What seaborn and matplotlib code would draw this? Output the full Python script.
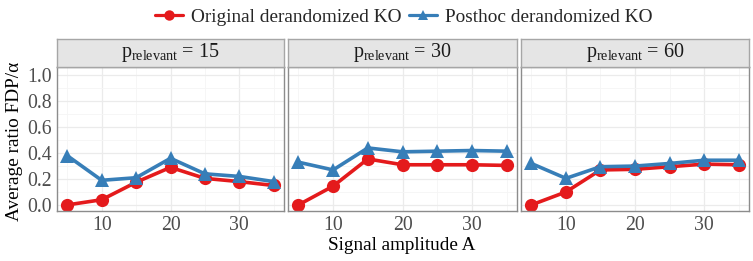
import numpy as np
import pandas as pd
import matplotlib
matplotlib.use('Agg')
import matplotlib.pyplot as plt
import seaborn as sns
from matplotlib.lines import Line2D

# data
amplitude = [5, 10, 15, 20, 25, 30, 35]
p_relevant = [15, 30, 60]
methods = ['Original derandomized KO', 'Posthoc derandomized KO']

original = {
    15: [0.00, 0.04, 0.175, 0.29, 0.205, 0.18, 0.15],
    30: [0.00, 0.145, 0.355, 0.31, 0.31, 0.31, 0.305],
    60: [0.00, 0.10, 0.27, 0.275, 0.295, 0.315, 0.31],
}
posthoc = {
    15: [0.38, 0.19, 0.21, 0.36, 0.24, 0.22, 0.18],
    30: [0.33, 0.27, 0.44, 0.41, 0.415, 0.42, 0.415],
    60: [0.32, 0.205, 0.295, 0.30, 0.32, 0.345, 0.345],
}

rows = []
for p in p_relevant:
    for a, v in zip(amplitude, original[p]):
        rows.append({'p': p, 'A': a, 'ratio': v, 'method': methods[0]})
    for a, v in zip(amplitude, posthoc[p]):
        rows.append({'p': p, 'A': a, 'ratio': v, 'method': methods[1]})
df = pd.DataFrame(rows)

sns.set_style('white')
plt.rcParams['font.family'] = ['Liberation Serif', 'DejaVu Serif']
plt.rcParams['mathtext.fontset'] = 'custom'
plt.rcParams['mathtext.rm'] = 'Liberation Serif'
plt.rcParams['mathtext.it'] = 'Liberation Serif'

palette = {methods[0]: '#E41A1C', methods[1]: '#377EB8'}
markers = {methods[0]: 'o', methods[1]: '^'}

W, H = 753, 261
fig = plt.figure(figsize=(W / 100, H / 100), dpi=100)

panels = [(57, 284), (288, 517), (521, 749)]
ax_top, ax_bot = 67, 211
strip_top = 39
border = '#8C8C8C'

for i, (p, (x0, x1)) in enumerate(zip(p_relevant, panels)):
    ax = fig.add_axes([x0 / W, 1 - ax_bot / H, (x1 - x0) / W, (ax_bot - ax_top) / H])
    sub = df[df['p'] == p]
    sns.lineplot(data=sub, x='A', y='ratio', hue='method', style='method',
                 palette=palette, markers=markers, dashes=False,
                 linewidth=2.6, markersize=9.5, markeredgewidth=0,
                 legend=False, ax=ax)
    ax.set_xlim(3.5, 36.5)
    ax.set_ylim(-0.047, 1.065)
    ax.set_xticks([10, 20, 30])
    ax.set_xticks([5, 15, 25, 35], minor=True)
    ax.set_yticks([0, 0.2, 0.4, 0.6, 0.8, 1.0])
    ax.set_yticks([0.1, 0.3, 0.5, 0.7, 0.9], minor=True)
    ax.grid(which='major', color='#EBEBEB', linewidth=0.9)
    ax.grid(which='minor', color='#F5F5F5', linewidth=0.6)
    ax.set_axisbelow(True)
    for s in ax.spines.values():
        s.set_color(border)
        s.set_linewidth(1.0)
    ax.tick_params(axis='both', which='major', labelsize=14.2, colors='#4D4D4D',
                   length=2.5, width=0.8, pad=1.2)
    ax.tick_params(axis='both', which='minor', length=0)
    ax.set_xlabel('')
    ax.set_ylabel('')
    if i == 0:
        ax.set_yticklabels(['0.0', '0.2', '0.4', '0.6', '0.8', '1.0'])
    else:
        ax.set_yticklabels([])
        ax.tick_params(axis='y', length=0)

    strip = fig.add_axes([x0 / W, 1 - ax_top / H, (x1 - x0) / W, (ax_top - strip_top) / H])
    strip.set_facecolor('#E5E5E5')
    strip.set_xticks([])
    strip.set_yticks([])
    for s in strip.spines.values():
        s.set_color('#A6A6A6')
        s.set_linewidth(1.0)
    strip.text(0.5, 0.5, r'$p_{relevant}$' + ' = %d' % p, ha='center', va='center',
               fontsize=14.5, color='#1A1A1A', transform=strip.transAxes)

fig.text(402 / W, 1 - 250 / H, 'Signal amplitude A', ha='center', va='baseline',
         fontsize=13.8, color='black')
fig.text(15 / W, 1 - 141 / H, 'Average ratio FDP/α', ha='center', va='center',
         rotation=90, fontsize=13.9, color='black')

handles = [Line2D([], [], color=palette[m], marker=markers[m], linewidth=2.3,
                  markersize=7.5, markeredgewidth=0) for m in methods]
fig.legend(handles, methods, loc='center', bbox_to_anchor=(403.5 / W, 1 - 17 / H),
           ncol=2, frameon=False, fontsize=13.9, handlelength=1.45, handletextpad=0.41,
           columnspacing=0.41, borderpad=0)

fig.savefig('out.png', dpi=100)
